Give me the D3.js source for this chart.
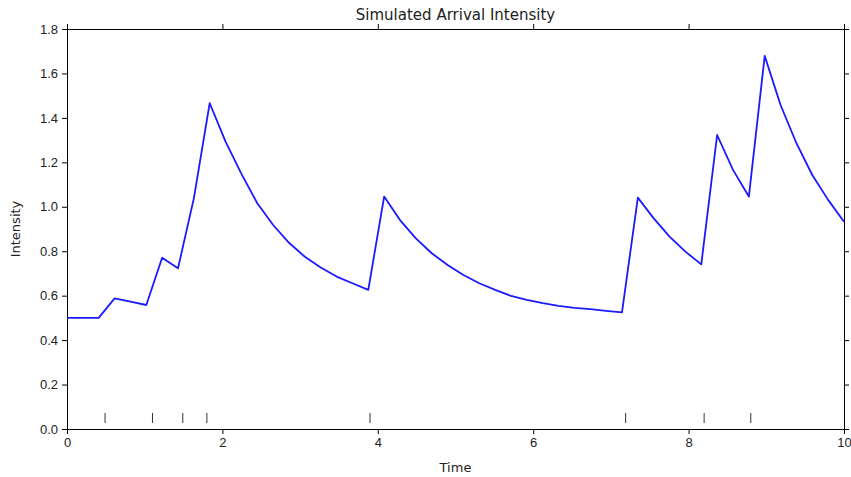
<!DOCTYPE html>
<html>
<head>
<meta charset="utf-8">
<script src="https://cdn.jsdelivr.net/npm/d3@7"></script>
<style>
  body { margin: 0; background: white; }
  svg { display: block; font-family: "DejaVu Sans", Verdana, sans-serif; }
  .axis path, .axis line { stroke: black; }
  .axis text { fill: #222; font-size: 13px; }
</style>
</head>
<body>
<svg></svg>
<script>
// sampling times (50 points from 0 to 10)
const times = d3.range(50).map(i => i * 10 / 49);

// intensity
const intensity = [
  0.500, 0.500, 0.500, 0.588, 0.573, 0.558, 0.771, 0.723, 1.038, 1.466,
  1.293, 1.148, 1.016, 0.918, 0.838, 0.775, 0.727, 0.686, 0.656, 0.626,
  1.046, 0.940, 0.858, 0.791, 0.738, 0.693, 0.656, 0.626, 0.599, 0.581,
  0.566, 0.554, 0.545, 0.539, 0.532, 0.525, 1.041, 0.948, 0.866, 0.798,
  0.741, 1.323, 1.166, 1.046, 1.679, 1.458, 1.286, 1.143, 1.031, 0.933
];

// arrival times (rug ticks)
const arrivals = [0.49, 1.10, 1.49, 1.80, 3.90, 7.19, 8.20, 8.80];

const xTicks = [0, 2, 4, 6, 8, 10];
const yTicks = d3.range(0, 1.81, 0.2);

const W = 851, H = 477;
const margin = { top: 29, right: 7, bottom: 48, left: 67 };
const width = W - margin.left - margin.right;
const height = H - margin.top - margin.bottom;

const svg = d3.select("svg").attr("width", W).attr("height", H);
const g = svg.append("g").attr("transform", `translate(${margin.left},${margin.top})`);

const x = d3.scaleLinear().domain([0, 10]).range([0, width]);
const y = d3.scaleLinear().domain([0, 1.8]).range([height, 0]);

// 축
g.append("g").attr("class", "axis")
  .attr("transform", `translate(0,${height})`)
  .call(d3.axisBottom(x).tickValues(xTicks).tickFormat(d3.format("d")).tickSizeOuter(0).tickSize(5).tickPadding(4));

g.append("g").attr("class", "axis")
  .call(d3.axisTop(x).tickValues(xTicks).tickFormat("").tickSizeOuter(0).tickSize(5));

g.append("g").attr("class", "axis")
  .call(d3.axisLeft(y).tickValues(yTicks).tickFormat(d3.format(".1f")).tickSizeOuter(0).tickSize(5).tickPadding(4));

g.append("g").attr("class", "axis")
  .attr("transform", `translate(${width},0)`)
  .call(d3.axisRight(y).tickValues(yTicks).tickFormat("").tickSizeOuter(0).tickSize(5));

// rug
g.selectAll(".rug")
  .data(arrivals)
  .enter().append("line")
  .attr("class", "rug")
  .attr("x1", d => x(d)).attr("x2", d => x(d))
  .attr("y1", height - 16).attr("y2", height - 6)
  .attr("stroke", "#333")
  .attr("stroke-width", 1);

// 선
const line = d3.line()
  .x((d, i) => x(times[i]))
  .y(d => y(d));

g.append("path")
  .datum(intensity)
  .attr("d", line)
  .attr("fill", "none")
  .attr("stroke", "#1a1aff")
  .attr("stroke-width", 1.8)
  .attr("stroke-linejoin", "round");

// 제목, 축 레이블
svg.append("text")
  .attr("x", margin.left + width / 2)
  .attr("y", 20)
  .attr("text-anchor", "middle")
  .attr("font-size", "15px")
  .attr("fill", "#222")
  .text("Simulated Arrival Intensity");

svg.append("text")
  .attr("x", margin.left + width / 2)
  .attr("y", 472)
  .attr("text-anchor", "middle")
  .attr("font-size", "13px")
  .attr("fill", "#222")
  .text("Time");

svg.append("text")
  .attr("transform", `translate(20,${margin.top + height / 2}) rotate(-90)`)
  .attr("text-anchor", "middle")
  .attr("font-size", "13px")
  .attr("fill", "#222")
  .text("Intensity");
</script>
</body>
</html>
